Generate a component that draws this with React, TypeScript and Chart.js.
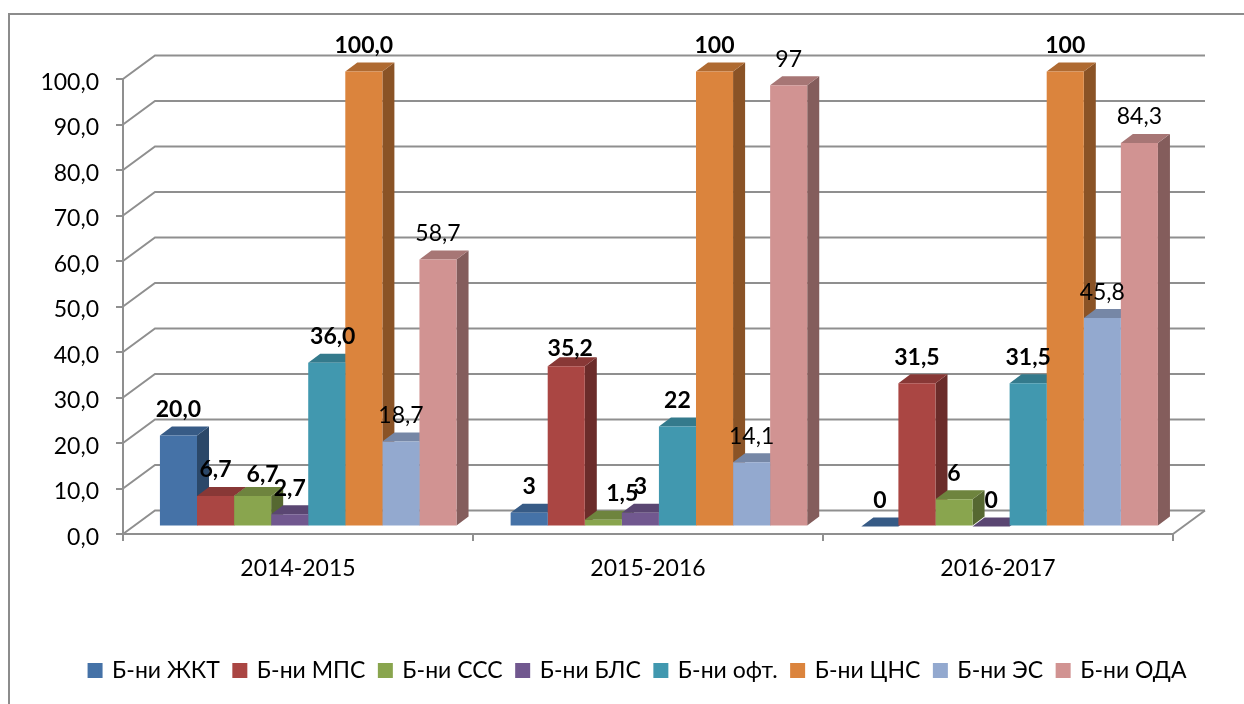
import React, { useEffect, useRef } from "react";
import { Chart, registerables } from "chart.js";

Chart.register(...registerables);

const categories = ["2014-2015", "2015-2016", "2016-2017"];
const seriesNames = ["Б-ни ЖКТ", "Б-ни МПС", "Б-ни ССС", "Б-ни БЛС", "Б-ни офт.", "Б-ни ЦНС", "Б-ни ЭС", "Б-ни ОДА"];
const zhkt = [20.0, 3, 0];
const mps = [6.7, 35.2, 31.5];
const sss = [6.7, 1.5, 6];
const bls = [2.7, 3, 0];
const oft = [36.0, 22, 31.5];
const cns = [100.0, 100, 100];
const es = [18.7, 14.1, 45.8];
const oda = [58.7, 97, 84.3];
const allSeries = [zhkt, mps, sss, bls, oft, cns, es, oda];
const yTicks = [0, 10, 20, 30, 40, 50, 60, 70, 80, 90, 100];

const colors = ["#4572A7", "#AA4643", "#89A54E", "#71588F", "#4198AF", "#DB843D", "#93A9CF", "#D19392"];
const boldSeries = 6;
const FONT = "Lato, Carlito, sans-serif";
const FS = 23;
const GRID = "#8f8f8f";
const BAR_DX = 10, BAR_DY = -7.5, DEPTH_X = 12, DEPTH_Y = -9, WALL_X = 32, WALL_Y = -23.5;
const BAR_ANCHOR = 187, BAR_STRETCH = 1.002;

// hand-moved data labels: "series:category" -> [dx, dy]
const labelMoves: Record<string, [number, number]> = {
  "2:0": [10, 5],
  "4:0": [6, 0],
  "1:1": [4, 8],
  "2:1": [19, 0],
};

const shade = (hex: string, f: number) => {
  const n = parseInt(hex.slice(1), 16);
  const c = [(n >> 16) & 255, (n >> 8) & 255, n & 255].map((v) => Math.round(v * f));
  return `rgb(${c[0]},${c[1]},${c[2]})`;
};

const labelText = (v: number, cat: number) =>
  (cat === 0 ? v.toFixed(1) : String(v)).replace(".", ",");

const mapX = (x: number) => BAR_ANCHOR + BAR_DX + (x - BAR_ANCHOR) * BAR_STRETCH;

const threeD = {
  id: "threeD",
  afterLayout(chart: any) {
    chart.legend.left += 51.5;
    chart.legend.right += 51.5;
  },
  beforeDraw(chart: any) {
    const { ctx, scales } = chart;
    const { x, y } = scales;
    ctx.save();
    ctx.strokeStyle = "#8c8c8c";
    ctx.lineWidth = 2;
    ctx.beginPath();
    ctx.moveTo(9, 704);
    ctx.lineTo(9, 14);
    ctx.lineTo(1244, 14);
    ctx.stroke();
    ctx.strokeStyle = GRID;
    ctx.lineWidth = 2;
    for (const t of yTicks) {
      const py = y.getPixelForValue(t);
      ctx.beginPath();
      ctx.moveTo(x.left, py);
      ctx.lineTo(x.left + WALL_X, py + WALL_Y);
      ctx.lineTo(x.right + WALL_X, py + WALL_Y);
      ctx.stroke();
    }
    ctx.beginPath();
    const y0 = y.getPixelForValue(0);
    ctx.moveTo(x.right, y0);
    ctx.lineTo(x.right + WALL_X, y0 + WALL_Y);
    ctx.stroke();
    ctx.restore();
  },
  beforeDatasetsDraw(chart: any) {
    const { ctx } = chart;
    ctx.save();
    ctx.translate(BAR_ANCHOR + BAR_DX, BAR_DY);
    ctx.scale(BAR_STRETCH, 1);
    ctx.translate(-BAR_ANCHOR, 0);
    categories.forEach((_, c) => {
      allSeries.forEach((_s, d) => {
        const el = chart.getDatasetMeta(d).data[c];
        const { x, y, base, width } = el.getProps(["x", "y", "base", "width"], true);
        const l = x - width / 2;
        const r = x + width / 2;
        ctx.fillStyle = shade(colors[d], 0.63);
        ctx.beginPath();
        ctx.moveTo(r, y);
        ctx.lineTo(r + DEPTH_X, y + DEPTH_Y);
        ctx.lineTo(r + DEPTH_X, base + DEPTH_Y);
        ctx.lineTo(r, base);
        ctx.closePath();
        ctx.fill();
        ctx.fillStyle = shade(colors[d], 0.8);
        ctx.beginPath();
        ctx.moveTo(l, y);
        ctx.lineTo(l + DEPTH_X, y + DEPTH_Y);
        ctx.lineTo(r + DEPTH_X, y + DEPTH_Y);
        ctx.lineTo(r, y);
        ctx.closePath();
        ctx.fill();
      });
    });
  },
  afterDatasetsDraw(chart: any) {
    const { ctx } = chart;
    ctx.restore();
    ctx.save();
    ctx.fillStyle = "#000";
    ctx.textAlign = "center";
    ctx.textBaseline = "middle";
    allSeries.forEach((vals, d) => {
      ctx.font = `${d < boldSeries ? "bold " : ""}${FS}px ${FONT}`;
      vals.forEach((v, c) => {
        const el = chart.getDatasetMeta(d).data[c];
        const { x, y } = el.getProps(["x", "y"], true);
        const [mx, my] = labelMoves[`${d}:${c}`] || [0, 0];
        ctx.fillText(labelText(v, c), mapX(x) + mx, y + BAR_DY - 26 + my);
      });
    });
    ctx.restore();
  },
};

export default function App() {
  const ref = useRef<HTMLCanvasElement>(null);
  useEffect(() => {
    const chart = new Chart(ref.current!, {
      type: "bar",
      data: {
        labels: categories,
        datasets: allSeries.map((vals, i) => ({
          label: seriesNames[i],
          data: vals,
          backgroundColor: colors[i],
          borderWidth: 0,
          clip: false as any,
        })),
      },
      options: {
        responsive: false,
        animation: false,
        events: [],
        datasets: { bar: { categoryPercentage: 296 / 350, barPercentage: 1 } },
        layout: { padding: { left: 0, right: 71, top: 79, bottom: 12 } },
        plugins: {
          title: { display: false },
          tooltip: { enabled: false },
          legend: {
            position: "bottom",
            labels: {
              boxWidth: 11,
              boxHeight: 11,
              padding: 14.5,
              color: "#000",
              font: { family: FONT, size: FS },
              generateLabels(chart: any) {
                return chart.data.datasets.map((ds: any, i: number) => ({
                  text: ds.label,
                  fillStyle: colors[i],
                  strokeStyle: colors[i],
                  lineWidth: 4,
                  fontColor: "#000",
                  datasetIndex: i,
                }));
              },
            },
          },
        },
        scales: {
          x: {
            afterFit(s: any) {
              s.height = 704 - 12 - 534 - s.chart.legend.height;
            },
            grid: { offset: true, drawOnChartArea: false, tickLength: 7, color: GRID, lineWidth: 2 },
            border: { color: GRID, width: 2 },
            ticks: { color: "#000", font: { family: FONT, size: FS }, padding: 14, maxRotation: 0 },
          },
          y: {
            min: 0,
            max: 100,
            afterFit(s: any) {
              s.width = 123;
            },
            grid: { drawOnChartArea: false, tickLength: 7, color: GRID, lineWidth: 2 },
            border: { color: GRID, width: 2 },
            ticks: {
              stepSize: 10,
              color: "#000",
              font: { family: FONT, size: FS },
              padding: 17,
              labelOffset: 3.5,
              callback: (v: any) => Number(v).toFixed(1).replace(".", ","),
            },
          },
        },
      },
      plugins: [threeD],
    } as any);
    return () => chart.destroy();
  }, []);
  return (
    <canvas
      ref={ref}
      width={1244}
      height={704}
      style={{ position: "fixed", left: 0, top: 0, width: 1244, height: 704, display: "block", background: "#fff" }}
    />
  );
}
